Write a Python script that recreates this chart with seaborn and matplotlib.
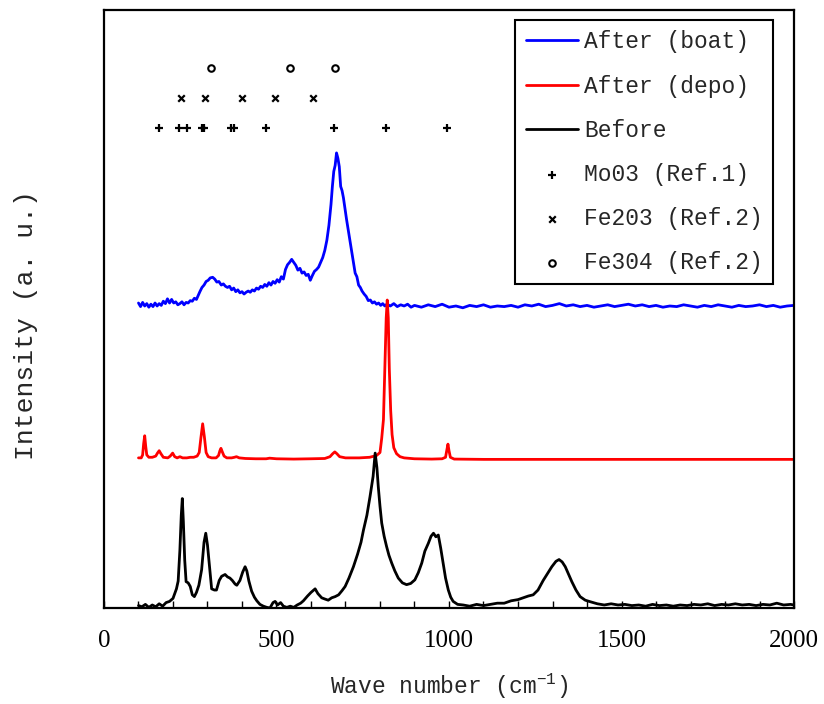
import matplotlib
matplotlib.use("Agg")
import matplotlib.pyplot as plt
from matplotlib.ticker import MultipleLocator
import seaborn as sns

# ---- Raman spectra (offset, arbitrary units) ----
boat_wn = [100, 106, 112, 118, 124, 130, 136, 142, 148, 154, 160, 166, 172, 178, 184, 190,
           196, 202, 208, 214, 220, 226, 232, 238, 244, 250, 256, 262, 268, 274, 278, 284,
           290, 296, 302, 308, 315, 321, 327, 333, 340, 346, 352, 358, 364, 370, 376, 382,
           388, 394, 400, 406, 412, 418, 424, 430, 436, 442, 448, 454, 460, 466, 472, 478,
           484, 490, 496, 502, 508, 514, 520, 526, 532, 538, 544, 550, 556, 562, 568, 574,
           580, 586, 592, 598, 604, 610, 616, 622, 628, 634, 640, 646, 652, 658, 662, 666,
           670, 674, 678, 682, 686, 690, 694, 698, 703, 708, 713, 718, 723, 728, 733, 738,
           743, 748, 754, 760, 766, 772, 778, 784, 790, 796, 802, 808, 814, 820, 830, 840,
           850, 860, 870, 880, 890, 900, 920, 940, 960, 980, 1000, 1020, 1040, 1060, 1080,
           1100, 1120, 1140, 1160, 1180, 1200, 1220, 1240, 1260, 1280, 1300, 1320, 1340,
           1360, 1380, 1400, 1420, 1440, 1460, 1480, 1500, 1520, 1540, 1560, 1580, 1600,
           1620, 1640, 1660, 1680, 1700, 1720, 1740, 1760, 1780, 1800, 1820, 1840, 1860,
           1880, 1900, 1920, 1940, 1960, 1980, 2000]
boat_int = [51.0, 50.4, 51.1, 50.5, 50.9, 50.3, 50.8, 50.4, 51.0, 50.5, 50.9, 50.6, 51.3, 50.9,
            51.7, 51.0, 51.6, 51.0, 51.2, 50.7, 50.9, 51.2, 50.7, 51.1, 51.0, 51.4, 51.3, 51.8,
            51.6, 52.4, 52.9, 53.6, 54.0, 54.6, 54.8, 55.2, 55.3, 55.0, 54.5, 54.6, 54.0, 54.2,
            53.8, 53.6, 53.8, 53.2, 53.5, 52.9, 53.2, 52.7, 52.9, 52.5, 52.8, 53.0, 52.8, 53.2,
            53.0, 53.5, 53.3, 53.8, 53.6, 54.1, 53.8, 54.4, 54.0, 54.6, 54.3, 54.9, 54.5, 55.4,
            55.0, 56.6, 57.4, 57.8, 58.3, 57.8, 57.3, 56.5, 56.8, 56.0, 56.2, 55.6, 55.8, 54.8,
            55.6, 56.3, 56.6, 57.0, 57.8, 58.6, 59.8, 61.5, 64.0, 67.5, 70.5, 73.0, 74.0, 76.1,
            75.2, 73.8, 70.5, 69.8, 68.6, 67.0, 65.0, 63.2, 61.5, 59.6, 57.8, 56.0, 55.4, 54.0,
            53.6, 53.0, 52.5, 52.1, 51.4, 51.5, 51.0, 51.2, 50.8, 51.0, 50.6, 50.9, 50.5, 50.8,
            50.5, 50.9, 50.4, 50.7, 50.5, 50.8, 50.3, 50.6, 50.3, 50.7, 50.4, 50.8, 50.3, 50.5,
            50.2, 50.6, 50.4, 50.7, 50.3, 50.5, 50.4, 50.6, 50.3, 50.7, 50.5, 50.8, 50.4, 50.6,
            50.9, 50.5, 50.7, 50.4, 50.6, 50.3, 50.5, 50.7, 50.4, 50.6, 50.8, 50.5, 50.7, 50.4,
            50.6, 50.3, 50.5, 50.4, 50.7, 50.5, 50.3, 50.6, 50.4, 50.7, 50.5, 50.3, 50.6, 50.4,
            50.5, 50.7, 50.4, 50.6, 50.3, 50.5, 50.6]

depo_wn = [100, 108, 112, 115, 118, 121, 124, 130, 140, 150, 155, 160, 165, 172, 185, 192, 199,
           205, 212, 220, 228, 240, 250, 260, 270, 276, 281, 286, 291, 296, 302, 312, 325, 332,
           336, 339, 343, 348, 356, 370, 378, 384, 392, 410, 440, 470, 480, 500, 550, 600, 640,
           655, 663, 669, 675, 683, 700, 740, 770, 790, 800, 805, 810, 814, 818, 821, 824, 827,
           831, 835, 840, 848, 858, 870, 900, 950, 980, 990, 994, 997, 1000, 1004, 1015, 1100,
           1300, 1500, 1700, 2000]
depo_int = [25.1, 25.1, 25.6, 27.5, 28.8, 27.0, 25.6, 25.2, 25.2, 25.4, 25.9, 26.3, 25.8, 25.2,
            25.1, 25.4, 25.9, 25.3, 25.1, 25.3, 25.1, 25.1, 25.2, 25.2, 25.4, 26.0, 28.5, 30.8,
            28.6, 26.0, 25.3, 25.1, 25.1, 25.5, 26.3, 26.7, 26.1, 25.4, 25.1, 25.1, 25.2, 25.3,
            25.1, 25.0, 24.95, 24.95, 25.05, 24.95, 24.9, 24.95, 25.0, 25.3, 25.8, 26.1, 25.8,
            25.3, 25.1, 25.1, 25.2, 25.5, 26.0, 28.4, 31.5, 40.0, 48.5, 51.5, 48.5, 40.0, 33.0,
            29.0, 26.8, 25.8, 25.3, 25.1, 24.95, 24.9, 24.95, 25.2, 26.5, 27.4, 26.3, 25.2, 24.9,
            24.85, 24.85, 24.85, 24.85, 24.85]

before_wn = [100, 110, 120, 130, 140, 150, 160, 170, 180, 190, 200, 210, 215, 220, 224, 227, 230,
             234, 238, 244, 250, 256, 262, 268, 275, 283, 290, 295, 300, 305, 312, 320, 326, 334,
             341, 351, 358, 365, 372, 380, 385, 394, 402, 409, 414, 420, 428, 436, 443, 452, 462,
             472, 481, 490, 496, 503, 512, 520, 530, 540, 550, 560, 570, 578, 590, 600, 612, 620,
             631, 640, 650, 660, 670, 680, 690, 699, 710, 723, 735, 745, 752, 762, 771, 780, 786,
             791, 795, 800, 805, 812, 819, 826, 834, 843, 853, 865, 877, 889, 901, 911, 921, 930,
             940, 948, 955, 962, 969, 976, 983, 990, 998, 1005, 1012, 1025, 1041, 1060, 1080,
             1100, 1120, 1140, 1160, 1180, 1200, 1215, 1230, 1244, 1258, 1273, 1286, 1298, 1310,
             1319, 1328, 1337, 1346, 1356, 1368, 1380, 1395, 1409, 1430, 1450, 1470, 1490, 1510,
             1530, 1550, 1570, 1590, 1610, 1630, 1650, 1670, 1690, 1710, 1730, 1750, 1770, 1790,
             1810, 1830, 1850, 1870, 1890, 1910, 1930, 1950, 1970, 1990, 2000]
before_int = [0.4, 0.2, 0.6, 0.1, 0.5, 0.2, 0.7, 0.3, 0.9, 1.1, 1.6, 3.2, 4.5, 9.7, 15.5, 18.3,
              14.5, 8.0, 4.4, 4.2, 3.6, 2.2, 1.9, 2.6, 3.8, 6.4, 11.0, 12.5, 10.5, 7.5, 3.2, 3.0,
              3.0, 4.6, 5.3, 5.6, 5.2, 5.0, 4.6, 4.0, 3.8, 4.6, 6.0, 6.9, 6.2, 4.5, 2.8, 1.8, 1.2,
              0.6, 0.3, 0.1, 0.0, 0.9, 1.1, 0.5, 0.9, 0.3, 0.1, 0.3, 0.1, 0.5, 0.8, 1.2, 2.0, 2.6,
              3.2, 2.4, 1.7, 1.5, 1.3, 1.7, 1.9, 2.2, 2.9, 3.6, 5.0, 6.9, 9.0, 11.0, 13.0, 15.5,
              18.6, 22.0, 25.9, 23.5, 20.3, 17.0, 14.2, 12.0, 10.3, 8.8, 7.5, 6.2, 5.0, 4.2, 3.9,
              4.1, 4.7, 5.9, 7.5, 9.5, 10.8, 12.0, 12.5, 11.9, 12.2, 10.0, 7.5, 5.0, 3.0, 1.8, 1.1,
              0.6, 0.5, 0.3, 0.6, 0.4, 0.6, 0.8, 0.8, 1.2, 1.4, 1.7, 2.0, 2.2, 3.0, 4.6, 5.8, 6.9,
              7.8, 8.1, 7.7, 6.9, 5.7, 4.4, 3.0, 1.9, 1.3, 1.05, 0.7, 0.5, 0.7, 0.5, 0.6, 0.4, 0.5,
              0.3, 0.6, 0.4, 0.5, 0.3, 0.5, 0.4, 0.6, 0.5, 0.7, 0.4, 0.6, 0.5, 0.7, 0.5, 0.6, 0.4,
              0.6, 0.5, 0.8, 0.5, 0.6, 0.5]

# ---- Reference peak positions (cm^-1) ----
moo3_ref = [158, 217, 241, 285, 291, 368, 378, 469, 666, 818, 995]
fe2o3_ref = [222, 292, 401, 496, 607]
fe3o4_ref = [311, 540, 670]
moo3_level, fe2o3_level, fe3o4_level = 80.3, 85.3, 90.3

sns.set_style("ticks")
plt.rcParams["font.family"] = ["Liberation Mono", "DejaVu Sans"]
plt.rcParams["mathtext.fontset"] = "custom"
plt.rcParams["mathtext.rm"] = "Liberation Mono"
plt.rcParams["mathtext.it"] = "Liberation Mono"

fig = plt.figure(figsize=(8.24, 7.04), dpi=100)
ax = fig.add_axes([0.1262, 0.1364, 0.8374, 0.8494])

line_w = 2.0
sns.lineplot(x=boat_wn, y=boat_int, color="#0000ff", lw=line_w, ax=ax,
             label="After (boat)", sort=False, estimator=None)
sns.lineplot(x=depo_wn, y=depo_int, color="#ff0000", lw=line_w, ax=ax,
             label="After (depo)", sort=False, estimator=None)
sns.lineplot(x=before_wn, y=before_int, color="black", lw=line_w, ax=ax,
             label="Before", sort=False, estimator=None)

sns.scatterplot(x=moo3_ref, y=[moo3_level] * len(moo3_ref), marker="+", s=30,
                color="black", linewidth=1.6, ax=ax, label="Mo03 (Ref.1)")
sns.scatterplot(x=fe2o3_ref, y=[fe2o3_level] * len(fe2o3_ref), marker="x", s=22,
                color="black", linewidth=1.6, ax=ax, label="Fe203 (Ref.2)")
ax.scatter(fe3o4_ref, [fe3o4_level] * len(fe3o4_ref), marker="o", s=22,
           facecolors="white", edgecolors="black", linewidths=1.5, label="Fe304 (Ref.2)",
           zorder=3)

ax.set_xlim(0, 2000)
ax.set_ylim(0, 100)
ax.xaxis.set_major_locator(MultipleLocator(500))
ax.xaxis.set_minor_locator(MultipleLocator(100))
ax.tick_params(axis="x", which="both", direction="in", length=5, width=1.0,
               pad=16, colors="black")
for lbl in ax.get_xticklabels():
    lbl.set_fontfamily("Liberation Serif")
    lbl.set_fontsize(18)
ax.set_yticks([])
for s in ax.spines.values():
    s.set_visible(True)
    s.set_color("black")
    s.set_linewidth(1.6)

ax.set_xlabel("Wave number (cm$^{-1}$)", fontsize=16.5, labelpad=14)
ax.set_ylabel("Intensity (a. u.)", fontsize=19)
ax.yaxis.set_label_coords(-0.095, 0.473)

leg = ax.legend(loc="upper right", bbox_to_anchor=(0.9696, 0.983), fontsize=16.5,
                frameon=True, fancybox=False, edgecolor="black", framealpha=1,
                handlelength=2.3, handletextpad=0.25, labelspacing=0.92,
                borderpad=0.45, borderaxespad=0, scatterpoints=1)
leg.get_frame().set_linewidth(1.5)

fig.savefig("out.png", dpi=100)
